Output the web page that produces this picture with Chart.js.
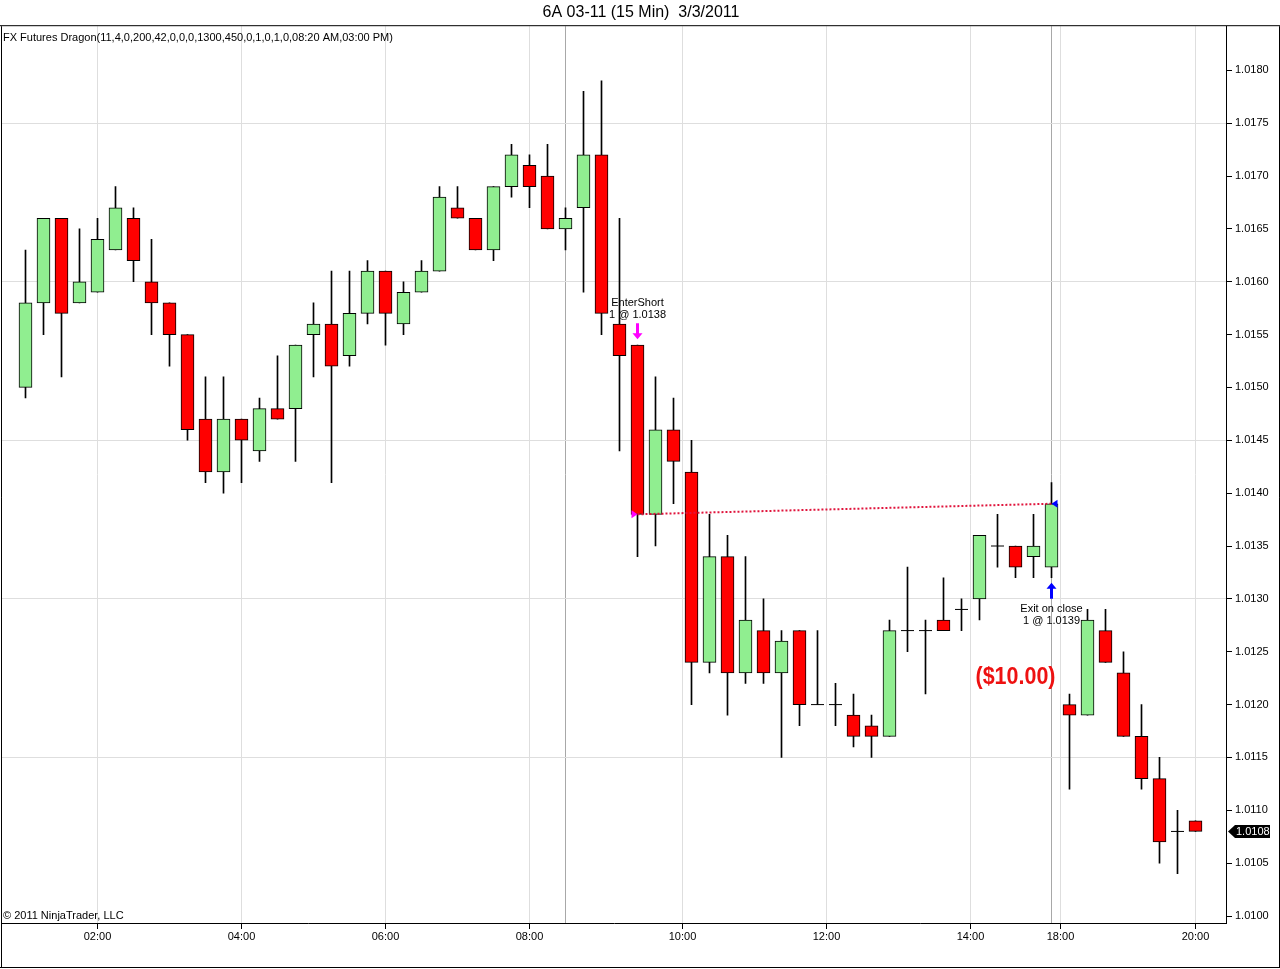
<!DOCTYPE html>
<html>
<head>
<meta charset="utf-8">
<title>6A 03-11 (15 Min)  3/3/2011</title>
<script src="https://cdn.jsdelivr.net/npm/chart.js@4.4.1/dist/chart.umd.min.js"></script>
<style>
  html, body { margin: 0; padding: 0; background: #fff; }
  #wrap { width: 1280px; height: 969px; }
</style>
</head>
<body>
<div id="wrap"><canvas id="priceChart" width="1280" height="969"></canvas></div>
<script>
// 15 min bars, 6A 03-11, 3/3/2011
const opens = [
  1.0150, 1.0158, 1.0166, 1.0158, 1.0159, 1.0163, 1.0166, 1.0160, 1.0158, 1.0155,
  1.0147, 1.0142, 1.0147, 1.0144, 1.0148, 1.0148, 1.0155, 1.0156, 1.0153, 1.0157,
  1.0161, 1.0156, 1.0159, 1.0161, 1.0167, 1.0166, 1.0163, 1.0169, 1.0171, 1.0170,
  1.0165, 1.0167, 1.0172, 1.0156, 1.0154, 1.0138, 1.0146, 1.0142, 1.0124, 1.0134,
  1.0123, 1.0127, 1.0123, 1.0127, 1.0120, 1.0120, 1.0119, 1.0118, 1.0117, 1.0127,
  1.0127, 1.0128, 1.0129, 1.0130, 1.0135, 1.0135, 1.0134, 1.0133, 1.0120, 1.0119,
  1.0127, 1.0123, 1.0117, 1.0113, 1.0108, 1.0109
];
const highs = [
  1.0163, 1.0166, 1.0166, 1.0165, 1.0166, 1.0169, 1.0167, 1.0164, 1.0158, 1.0155,
  1.0151, 1.0151, 1.0147, 1.0149, 1.0153, 1.0154, 1.0158, 1.0161, 1.0161, 1.0162,
  1.0161, 1.0160, 1.0162, 1.0169, 1.0169, 1.0166, 1.0169, 1.0173, 1.0172, 1.0173,
  1.0167, 1.0178, 1.0179, 1.0166, 1.0154, 1.0151, 1.0149, 1.0145, 1.0138, 1.0136,
  1.0134, 1.0130, 1.0127, 1.0127, 1.0127, 1.0122, 1.0121, 1.0119, 1.0128, 1.0133,
  1.0128, 1.0132, 1.0130, 1.0136, 1.0138, 1.0135, 1.0138, 1.0141, 1.0121, 1.0129,
  1.0129, 1.0125, 1.0120, 1.0115, 1.0110, 1.0109
];
const lows = [
  1.0149, 1.0155, 1.0151, 1.0158, 1.0159, 1.0163, 1.0160, 1.0155, 1.0152, 1.0145,
  1.0141, 1.0140, 1.0141, 1.0143, 1.0147, 1.0143, 1.0151, 1.0141, 1.0152, 1.0156,
  1.0154, 1.0155, 1.0159, 1.0161, 1.0166, 1.0163, 1.0162, 1.0168, 1.0167, 1.0165,
  1.0163, 1.0159, 1.0155, 1.0144, 1.0134, 1.0135, 1.0139, 1.0120, 1.0123, 1.0119,
  1.0122, 1.0122, 1.0115, 1.0118, 1.0120, 1.0118, 1.0116, 1.0115, 1.0117, 1.0125,
  1.0121, 1.0127, 1.0127, 1.0128, 1.0133, 1.0132, 1.0132, 1.0132, 1.0112, 1.0119,
  1.0124, 1.0117, 1.0112, 1.0105, 1.0104, 1.0108
];
const closes = [
  1.0158, 1.0166, 1.0157, 1.0160, 1.0164, 1.0167, 1.0162, 1.0158, 1.0155, 1.0146,
  1.0142, 1.0147, 1.0145, 1.0148, 1.0147, 1.0154, 1.0156, 1.0152, 1.0157, 1.0161,
  1.0157, 1.0159, 1.0161, 1.0168, 1.0166, 1.0163, 1.0169, 1.0172, 1.0169, 1.0165,
  1.0166, 1.0172, 1.0157, 1.0153, 1.0138, 1.0146, 1.0143, 1.0124, 1.0134, 1.0123,
  1.0128, 1.0123, 1.0126, 1.0120, 1.0120, 1.0120, 1.0117, 1.0117, 1.0127, 1.0127,
  1.0127, 1.0127, 1.0129, 1.0136, 1.0135, 1.0133, 1.0135, 1.0139, 1.0119, 1.0128,
  1.0124, 1.0117, 1.0113, 1.0107, 1.0108, 1.0108
];

// time axis: bar index where each label falls
const timeTickBars   = [4, 12, 20, 28, 36.5, 44.5, 52.5, 57.5, 65];
const timeTickLabels = ['02:00', '04:00', '06:00', '08:00', '10:00', '12:00', '14:00', '18:00', '20:00'];
const sessionBreakBars = [30, 57];

const priceMin = 1.009934;
const priceMax = 1.018417;
const priceStep = 0.0005;

// the one trade on the chart
const entryBar = 34, entryPrice = 1.0138, entryName = 'EnterShort';
const exitBar = 57, exitPrice = 1.0139, exitName = 'Exit on close';
const tradeQty = 1;
const tradePnl = '($10.00)';

const FONT = '"Liberation Sans", Arial, sans-serif';
const UP = '#90ee90', DOWN = '#ff0000';

const bodies = [], wicks = [], dojis = [], bodyColors = [];
for (let i = 0; i < opens.length; i++) {
  wicks.push({ x: i, y: [lows[i], highs[i]] });
  if (opens[i] === closes[i]) {
    dojis.push({ x: i, y: closes[i] });
    bodies.push({ x: i, y: null });
  } else {
    bodies.push({ x: i, y: [Math.min(opens[i], closes[i]), Math.max(opens[i], closes[i])] });
  }
  bodyColors.push(closes[i] > opens[i] ? UP : DOWN);
}

function isBreak(c) {
  return !!(c && c.tick && sessionBreakBars.includes(c.tick.value));
}

function drawArrow(ctx, x, tipY, dir, color) {
  // dir 1 = points down, -1 = points up
  ctx.save();
  ctx.fillStyle = color;
  ctx.beginPath();
  ctx.moveTo(x, tipY);
  ctx.lineTo(x - 5, tipY - dir * 6);
  ctx.lineTo(x - 1.5, tipY - dir * 6);
  ctx.lineTo(x - 1.5, tipY - dir * 16);
  ctx.lineTo(x + 1.5, tipY - dir * 16);
  ctx.lineTo(x + 1.5, tipY - dir * 6);
  ctx.lineTo(x + 5, tipY - dir * 6);
  ctx.closePath();
  ctx.fill();
  ctx.restore();
}

const tradeMarks = {
  id: 'tradeMarks',
  afterDatasetsDraw(chart) {
    const ctx = chart.ctx, xs = chart.scales.x, ys = chart.scales.y;
    ctx.save();
    ctx.font = '11px ' + FONT;
    ctx.fillStyle = '#000';
    ctx.textAlign = 'center';
    ctx.textBaseline = 'middle';

    // entry
    const ex = xs.getPixelForValue(entryBar);
    const eTop = ys.getPixelForValue(highs[entryBar]);
    ctx.fillText(entryName, ex, eTop - 42);
    ctx.fillText(tradeQty + ' @ ' + entryPrice.toFixed(4), ex, eTop - 30);
    drawArrow(ctx, ex, eTop - 6, 1, '#ff00ff');
    const ey = ys.getPixelForValue(entryPrice);
    ctx.fillStyle = '#ff00ff';
    ctx.beginPath();
    ctx.moveTo(ex - 6, ey - 4);
    ctx.lineTo(ex, ey);
    ctx.lineTo(ex - 6, ey + 4);
    ctx.closePath();
    ctx.fill();

    // exit
    const xx = xs.getPixelForValue(exitBar);
    const xLow = ys.getPixelForValue(lows[exitBar]);
    drawArrow(ctx, xx, xLow + 5, -1, '#0000ff');
    ctx.fillStyle = '#000';
    ctx.fillText(exitName, xx, xLow + 31);
    ctx.fillText(tradeQty + ' @ ' + exitPrice.toFixed(4), xx, xLow + 43);
    const xy = ys.getPixelForValue(exitPrice);
    ctx.fillStyle = '#0000ff';
    ctx.beginPath();
    ctx.moveTo(xx + 6, xy - 4);
    ctx.lineTo(xx, xy);
    ctx.lineTo(xx + 6, xy + 4);
    ctx.closePath();
    ctx.fill();

    // profit / loss
    ctx.font = 'bold 24px ' + FONT;
    const w = ctx.measureText(tradePnl).width;
    const px = xs.getPixelForValue(55), py = ys.getPixelForValue(1.01226);
    ctx.translate(px, py);
    ctx.scale(Math.min(1, 80 / w), 1);
    ctx.fillStyle = '#ee1111';
    ctx.fillText(tradePnl, 0, 0);
    ctx.restore();
  },
  afterDraw(chart) {
    const ctx = chart.ctx, a = chart.chartArea, ys = chart.scales.y;
    ctx.save();
    // frame
    ctx.strokeStyle = '#000';
    ctx.lineWidth = 1;
    ctx.beginPath();
    ctx.moveTo(0, a.top - 0.5); ctx.lineTo(1280, a.top - 0.5);
    ctx.moveTo(1.5, a.top); ctx.lineTo(1.5, 968);
    ctx.moveTo(0, 967.5); ctx.lineTo(1280, 967.5);
    ctx.moveTo(1279.5, a.top); ctx.lineTo(1279.5, 968);
    ctx.stroke();

    // texts inside the panel
    ctx.fillStyle = '#000';
    ctx.font = '11px ' + FONT;
    ctx.textAlign = 'left';
    ctx.textBaseline = 'middle';
    ctx.fillText('FX Futures Dragon(11,4,0,200,42,0,0,0,1300,450,0,1,0,1,0,08:20 AM,03:00 PM)', 3, a.top + 12);
    ctx.fillText('\u00a9 2011 NinjaTrader, LLC', 3, a.bottom - 7);

    // last price tag
    const last = closes[closes.length - 1];
    const ly = Math.round(ys.getPixelForValue(last)) + 0.5;
    const lx = a.right + 2;
    ctx.fillStyle = '#000';
    ctx.beginPath();
    ctx.moveTo(lx, ly);
    ctx.lineTo(lx + 7, ly - 6.5);
    ctx.lineTo(lx + 42, ly - 6.5);
    ctx.lineTo(lx + 42, ly + 6.5);
    ctx.lineTo(lx + 7, ly + 6.5);
    ctx.closePath();
    ctx.fill();
    ctx.fillStyle = '#fff';
    ctx.fillText(last.toFixed(4), lx + 8, ly);
    ctx.restore();
  }
};

Chart.defaults.font.family = FONT;
Chart.defaults.font.size = 11;
Chart.defaults.color = '#000';

new Chart(document.getElementById('priceChart'), {
  type: 'bar',
  data: {
    datasets: [
      {
        type: 'scatter',
        data: dojis,
        pointStyle: 'line',
        pointRadius: 6.5,
        pointHoverRadius: 6.5,
        borderColor: '#000',
        borderWidth: 1,
        order: 0
      },
      {
        type: 'line',
        data: [{ x: entryBar, y: entryPrice }, { x: exitBar, y: exitPrice }],
        borderColor: '#e0143c',
        borderWidth: 2,
        borderDash: [2, 2],
        pointRadius: 0,
        order: 0
      },
      {
        data: bodies,
        backgroundColor: bodyColors,
        borderColor: '#000',
        borderWidth: 1,
        borderSkipped: false,
        barThickness: 13,
        grouped: false,
        order: 1
      },
      {
        data: wicks,
        backgroundColor: '#000',
        borderWidth: 0,
        barThickness: 1,
        grouped: false,
        order: 2
      }
    ]
  },
  options: {
    responsive: false,
    animation: false,
    devicePixelRatio: 1,
    layout: { autoPadding: false, padding: { left: 2, top: 0, right: 0, bottom: 0 } },
    plugins: {
      legend: { display: false },
      tooltip: { enabled: false },
      title: {
        display: true,
        text: '6A 03-11 (15 Min)  3/3/2011',
        font: { size: 16, weight: 'normal' },
        color: '#000',
        padding: { top: 3, bottom: 4 }
      }
    },
    scales: {
      x: {
        type: 'linear',
        min: -1.30556,
        max: 66.69444,
        offset: false,
        afterBuildTicks(scale) {
          scale.ticks = timeTickBars.concat(sessionBreakBars)
            .sort((a, b) => a - b)
            .map(v => ({ value: v }));
        },
        afterFit(scale) { scale.height = 46; },
        ticks: {
          autoSkip: false,
          maxRotation: 0,
          padding: 1,
          font: { size: 11 },
          callback(v) {
            const k = timeTickBars.indexOf(v);
            return k >= 0 ? timeTickLabels[k] : '';
          }
        },
        grid: {
          offset: false,
          color: c => isBreak(c) ? '#a8a8a8' : '#dedede',
          tickColor: c => isBreak(c) ? 'rgba(0,0,0,0)' : '#000',
          tickLength: 6,
          lineWidth: 1
        },
        border: { display: true, color: '#000', width: 1 }
      },
      y: {
        position: 'right',
        min: priceMin,
        max: priceMax,
        afterFit(scale) { scale.width = 54; },
        ticks: {
          stepSize: priceStep,
          includeBounds: false,
          padding: 3,
          font: { size: 11 },
          callback: v => v.toFixed(4)
        },
        grid: {
          color: c => {
            if (!c || !c.tick) return 'rgba(0,0,0,0)';
            const p = Math.round(c.tick.value * 10000);
            return (p % 15 === 5 && p > 10101) ? '#dedede' : 'rgba(0,0,0,0)';
          },
          tickColor: '#000',
          tickLength: 6
        },
        border: { display: true, color: '#000', width: 1 }
      }
    }
  },
  plugins: [tradeMarks]
});
</script>
</body>
</html>
